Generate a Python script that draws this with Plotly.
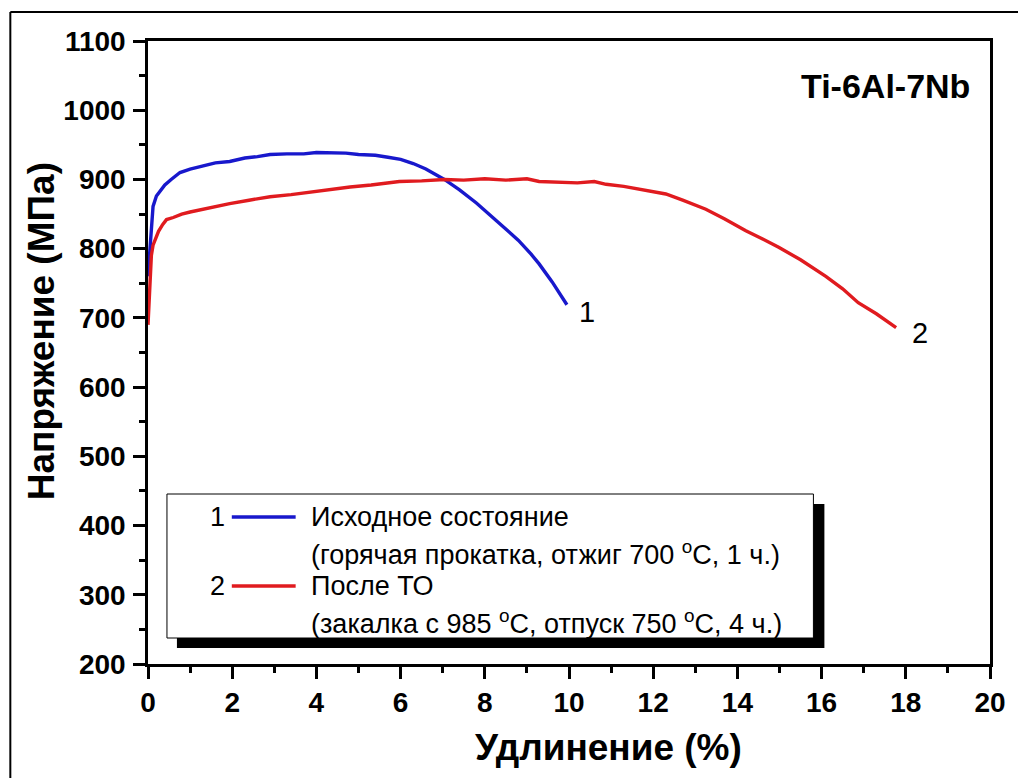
import plotly.graph_objects as go

# ---- data ----
blue_x = [0.0, 0.03, 0.05, 0.08, 0.12, 0.2, 0.28, 0.4, 0.55, 0.76, 1.0, 1.3, 1.6, 1.94, 2.3, 2.6,
          2.9, 3.3, 3.7, 4.0, 4.3, 4.7, 5.0, 5.4, 5.7, 6.0, 6.3, 6.6, 7.04, 7.4, 7.8, 8.2, 8.5,
          8.8, 9.1, 9.29, 9.6, 9.95]
blue_y = [760, 790, 805, 840, 861, 876, 883, 892, 900, 910, 915, 920, 924, 926, 931, 933,
          936, 937, 937, 939, 939, 938, 936, 935, 932, 929, 923, 915, 900, 885, 866, 845, 828,
          812, 792, 778, 752, 719]

red_x = [0.0, 0.03, 0.05, 0.08, 0.12, 0.17, 0.25, 0.35, 0.44, 0.6, 0.8, 1.0, 1.15, 1.5, 1.94,
         2.4, 2.9, 3.4, 3.9, 4.3, 4.8, 5.3, 5.97, 6.5, 7.04, 7.5, 8.0, 8.5, 9.0, 9.29, 9.7,
         10.2, 10.6, 10.88, 11.3, 11.7, 12.3, 12.7, 13.08, 13.25, 13.7, 14.2, 14.6, 14.98,
         15.5, 16.1, 16.5, 16.87, 17.3, 17.77]
red_y = [690, 730, 760, 790, 805, 813, 825, 835, 842, 845, 850, 853, 855, 860, 865,
         870, 875, 878, 882, 886, 889, 892, 897, 898, 900, 899, 901, 899, 901, 897, 896,
         895, 897, 893, 890, 886, 879, 870, 861, 857, 843, 826, 814, 802,
         784, 760, 742, 722, 706, 686]

x_ticks = list(range(0, 21, 2))
y_ticks = list(range(200, 1101, 100))

x_title = "Удлинение (%)"
y_title = "Напряжение (МПа)"
series_names = ["Исходное состояние", "После ТО"]
series_notes = ["(горячая прокатка, отжиг 700 <sup>o</sup>C, 1 ч.)",
                "(закалка с 985 <sup>o</sup>C, отпуск 750 <sup>o</sup>C, 4 ч.)"]
series_labels = ["1", "2"]
alloy = "Ti-6Al-7Nb"

BLUE = "#1818cc"
RED = "#e01b1f"
FONT = "Liberation Sans, Arial, sans-serif"

W, H = 1018, 778
L, R, T, B = 148, 992, 41, 664


def px(xp):
    return (xp - L) / (R - L)


def py(yp):
    return (B - yp) / (B - T)


fig = go.Figure()
fig.add_trace(go.Scatter(x=blue_x, y=blue_y, mode="lines",
                         line=dict(color=BLUE, width=3.4), showlegend=False))
fig.add_trace(go.Scatter(x=red_x, y=red_y, mode="lines",
                         line=dict(color=RED, width=3.4), showlegend=False))

axis_common = dict(showline=True, linecolor="black", linewidth=2.5, mirror=True,
                   ticks="outside", ticklen=12, tickwidth=2.5, tickcolor="black",
                   showgrid=False, zeroline=False,
                   tickfont=dict(family=FONT, size=28, color="black", weight="bold"))

fig.update_xaxes(range=[0, 20], tickvals=x_ticks,
                 minor=dict(ticks="outside", ticklen=6, tickwidth=2.5, tickcolor="black", dtick=1),
                 **axis_common)
fig.update_yaxes(range=[200, 1100], tickvals=y_ticks, ticklabelstandoff=2,
                 minor=dict(ticks="outside", ticklen=6, tickwidth=2.5, tickcolor="black", dtick=50),
                 **axis_common)

shapes = []
# outer frame (left and top edges visible)
shapes.append(dict(type="line", xref="paper", yref="paper", x0=px(10), x1=px(10),
                   y0=py(12), y1=py(800), line=dict(color="black", width=2)))
shapes.append(dict(type="line", xref="paper", yref="paper", x0=px(10), x1=px(1040),
                   y0=py(12), y1=py(12), line=dict(color="black", width=2)))
# legend shadow and box
shapes.append(dict(type="rect", xref="paper", yref="paper", x0=px(177), x1=px(826),
                   y0=py(648), y1=py(504), fillcolor="black", line=dict(width=0)))
shapes.append(dict(type="rect", xref="paper", yref="paper", x0=px(167), x1=px(815),
                   y0=py(638), y1=py(494), fillcolor="white", line=dict(color="black", width=1)))
# legend sample lines
for yy, col in [(517, BLUE), (586, RED)]:
    shapes.append(dict(type="line", xref="paper", yref="paper", x0=px(232), x1=px(296),
                       y0=py(yy), y1=py(yy), line=dict(color=col, width=3.5)))

ann = []
leg_font = dict(family=FONT, size=27, color="black")
for lab, yy in zip(series_labels, [517, 586]):
    ann.append(dict(text=lab, xref="paper", yref="paper", x=px(227), y=py(yy),
                    xanchor="right", yanchor="middle", showarrow=False, font=leg_font))
texts = [(series_names[0], 517), (series_notes[0], 553), (series_names[1], 586), (series_notes[1], 622)]
for t, yy in texts:
    ann.append(dict(text=t, xref="paper", yref="paper", x=px(309), y=py(yy),
                    xanchor="left", yanchor="middle", showarrow=False, font=leg_font))
# curve end labels
ann.append(dict(text=series_labels[0], xref="paper", yref="paper", x=px(588), y=py(312),
                xanchor="center", yanchor="middle", showarrow=False,
                font=dict(family=FONT, size=29, color="black")))
ann.append(dict(text=series_labels[1], xref="paper", yref="paper", x=px(922), y=py(333),
                xanchor="center", yanchor="middle", showarrow=False,
                font=dict(family=FONT, size=29, color="black")))
# alloy title
ann.append(dict(text=alloy, xref="paper", yref="paper", x=px(974), y=py(86),
                xanchor="right", yanchor="middle", showarrow=False,
                font=dict(family=FONT, size=34, color="black", weight="bold")))
# axis titles
ann.append(dict(text=x_title, xref="paper", yref="paper", x=px(610), y=py(748),
                xanchor="center", yanchor="middle", showarrow=False,
                font=dict(family=FONT, size=37, color="black", weight="bold")))
ann.append(dict(text=y_title, xref="paper", yref="paper", x=px(41), y=py(331),
                xanchor="center", yanchor="middle", showarrow=False, textangle=-90,
                font=dict(family=FONT, size=37, color="black", weight="bold")))

fig.update_layout(width=W, height=H, margin=dict(l=L, r=W - R, t=T, b=H - B),
                  paper_bgcolor="white", plot_bgcolor="white",
                  shapes=shapes, annotations=ann, showlegend=False)

fig.write_html("out.html")
